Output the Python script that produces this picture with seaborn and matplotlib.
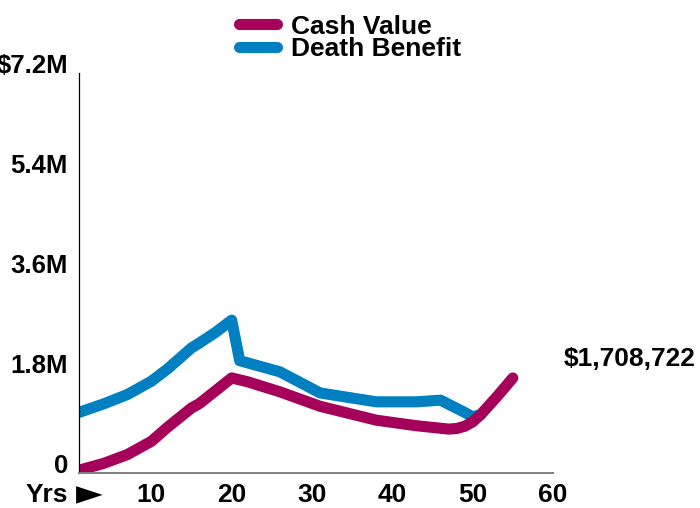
import matplotlib
matplotlib.use("Agg")
import matplotlib.pyplot as plt
import seaborn as sns

# policy values in dollars
cash_years = [1, 4, 7, 10, 12, 15, 16, 18, 20, 22, 26, 31, 38, 43, 47, 48, 49, 50, 51, 53, 55]
cash_value = [0.05e6, 0.17e6, 0.33e6, 0.57e6, 0.82e6, 1.17e6, 1.25e6, 1.48e6, 1.71e6, 1.64e6,
              1.46e6, 1.20e6, 0.95e6, 0.85e6, 0.79e6, 0.80e6, 0.84e6, 0.92e6, 1.05e6, 1.37e6,
              1708722]

death_years = [1, 4, 7, 10, 12, 15, 16, 18, 20, 21, 26, 31, 38, 43, 46, 49, 50, 51]
death_benefit = [1.09e6, 1.24e6, 1.41e6, 1.65e6, 1.87e6, 2.25e6, 2.34e6, 2.53e6, 2.75e6, 2.02e6,
                 1.82e6, 1.44e6, 1.28e6, 1.28e6, 1.31e6, 1.09e6, 1.01e6, 1.05e6]

y_ticks = [0, 1.8e6, 3.6e6, 5.4e6, 7.2e6]
y_tick_labels = ["0", "1.8M", "3.6M", "5.4M", "$7.2M"]
x_ticks = [10, 20, 30, 40, 50, 60]
final_label = "$1,708,722"

cash_color = "#A5005A"
death_color = "#0080C0"
fs = 19

sns.set_style("white")
plt.rcParams["font.family"] = ["Liberation Sans", "DejaVu Sans"]
plt.rcParams["font.weight"] = "bold"
plt.rcParams["text.color"] = "black"
plt.rcParams["mathtext.fontset"] = "dejavusans"

fig = plt.figure(figsize=(7, 5.08), dpi=100)
ax = fig.add_axes([0.1129, 0.0689, 0.6771, 0.788])

line_kw = dict(linewidth=8, solid_capstyle="round", solid_joinstyle="round")
sns.lineplot(x=death_years, y=death_benefit, color=death_color, label="Death Benefit", ax=ax, **line_kw)
sns.lineplot(x=cash_years, y=cash_value, color=cash_color, label="Cash Value", ax=ax, **line_kw)

ax.set_xlim(1, 60)
ax.set_ylim(0, 7.2e6)
ax.set_xticks(x_ticks)
ax.set_xticklabels([str(t) for t in x_ticks])
ax.set_yticks(y_ticks)
ax.set_yticklabels(y_tick_labels)
for lab in ax.get_yticklabels():
    lab.set_va("baseline")
ax.tick_params(axis="both", length=0, labelcolor="black")
ax.tick_params(axis="x", pad=7.5, labelsize=fs)
ax.tick_params(axis="y", pad=8, labelsize=18.5)

for side in ["top", "right"]:
    ax.spines[side].set_visible(False)
ax.spines["left"].set_color("black")
ax.spines["left"].set_linewidth(0.9)
ax.spines["bottom"].set_color("#808080")
ax.spines["bottom"].set_linewidth(1.4)

# "Yrs" plus a larger pointer, sitting on the x tick-label row
ax.annotate("Yrs", xy=(-0.35, 0), xycoords=("data", "axes fraction"),
            xytext=(0, -7.5), textcoords="offset points", ha="right", va="top",
            fontsize=fs, fontweight="bold", color="black")
ax.annotate("$\u25BA$", xy=(4.1, 0), xycoords=("data", "axes fraction"),
            xytext=(0, -15.5), textcoords="offset points", ha="right", va="center",
            fontsize=25, color="black")

ax.text(69.6, 2.05e6, final_label, ha="center", va="center", fontsize=fs,
        fontweight="bold", color="black", clip_on=False)

handles, labels = ax.get_legend_handles_labels()
ax.get_legend().remove()
order = [labels.index("Cash Value"), labels.index("Death Benefit")]
leg = fig.legend([handles[i] for i in order], [labels[i] for i in order],
                 loc="upper center", bbox_to_anchor=(0.5, 1.0), frameon=False,
                 fontsize=fs, handlelength=1.45, handletextpad=0.55, labelspacing=-0.05,
                 borderaxespad=0.15)
for t in leg.get_texts():
    t.set_color("black")

ax.set_xlabel("")
ax.set_ylabel("")
fig.savefig("out.png", dpi=100)
